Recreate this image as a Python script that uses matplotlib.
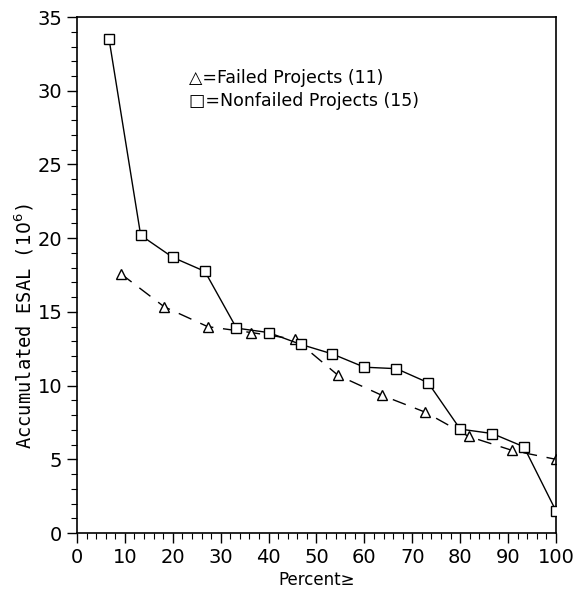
import matplotlib
matplotlib.use("Agg")
import matplotlib.pyplot as plt
from matplotlib.ticker import MultipleLocator

# percent of projects (>=) and accumulated ESAL, millions
failed_pct = [9.1, 18.2, 27.3, 36.4, 45.5, 54.5, 63.6, 72.7, 81.8, 90.9, 100]
failed_esal = [17.6, 15.35, 14.0, 13.6, 13.15, 10.7, 9.35, 8.2, 6.55, 5.6, 5.0]

nonfailed_pct = [6.7, 13.3, 20.0, 26.7, 33.3, 40.0, 46.7, 53.3, 60.0, 66.7,
                 73.3, 80.0, 86.7, 93.3, 100]
nonfailed_esal = [33.5, 20.2, 18.7, 17.75, 13.9, 13.6, 12.8, 12.15, 11.25,
                  11.15, 10.2, 7.05, 6.75, 5.85, 1.5]

legend_lines = ["\u25b3=Failed Projects (11)", "\u25a1=Nonfailed Projects (15)"]


def plot_esal():
    fig = plt.figure(figsize=(5.77, 5.89), dpi=100)
    ax = fig.add_axes([0.1334, 0.095, 0.8302, 0.876])

    ax.plot(failed_pct, failed_esal, color='black', lw=1.0,
            linestyle=(0, (10, 7)), marker='^', ms=7, mfc='white',
            mec='black', mew=1.0)
    ax.plot(nonfailed_pct, nonfailed_esal, color='black', lw=1.0,
            marker='s', ms=6.5, mfc='white', mec='black', mew=1.0, zorder=3)

    ax.set_xlim(0, 100)
    ax.set_ylim(0, 35)
    ax.xaxis.set_major_locator(MultipleLocator(10))
    ax.xaxis.set_minor_locator(MultipleLocator(2))
    ax.yaxis.set_major_locator(MultipleLocator(5))
    ax.yaxis.set_minor_locator(MultipleLocator(1))
    ax.tick_params(which='major', direction='out', length=7, width=1,
                   labelsize=14, top=False, right=False)
    ax.tick_params(which='minor', direction='out', length=4, width=0.8,
                   top=False, right=False)
    for s in ax.spines.values():
        s.set_linewidth(1.2)

    ax.set_xlabel("Percent\u2265", fontsize=12, labelpad=3)
    ax.set_ylabel("Accumulated ESAL ($10^6$)", fontsize=13.5,
                  family='DejaVu Sans Mono')
    ax.yaxis.set_label_coords(-0.085, 0.40)

    ax.text(23.3, 30.85, legend_lines[0], fontsize=12.5, va='center')
    ax.text(23.3, 29.3, legend_lines[1], fontsize=12.5, va='center')

    fig.savefig("out.png", dpi=100)


if __name__ == '__main__':
    plot_esal()
